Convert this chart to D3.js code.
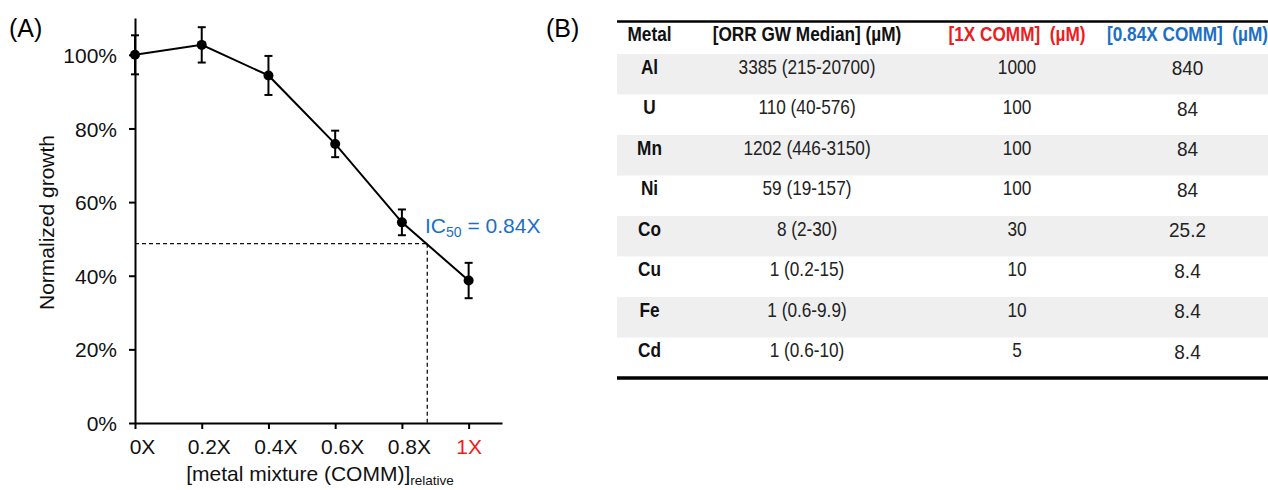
<!DOCTYPE html>
<html>
<head>
<meta charset="utf-8">
<script src="https://cdn.jsdelivr.net/npm/d3@7/dist/d3.min.js"></script>
<style>
  html, body { margin: 0; padding: 0; background: #fff; }
  svg { display: block; }
  text { font-family: "Liberation Sans", Arial, sans-serif; }
</style>
</head>
<body>
<svg id="fig" width="1268" height="490"></svg>
<script>
// ---------- Panel A data ----------
const doseX = [0, 0.2, 0.4, 0.6, 0.8, 1.0];
const doseLabels = ["0X", "0.2X", "0.4X", "0.6X", "0.8X", "1X"];
const growth = [1.00, 1.027, 0.944, 0.758, 0.545, 0.387];
const growthErr = [0.053, 0.048, 0.053, 0.036, 0.035, 0.048];
const yTicks = [0, 0.2, 0.4, 0.6, 0.8, 1.0];
const ic50X = 0.876;
const ic50Y = 0.487;

// ---------- Panel B data ----------
const tableHeaders = ["Metal", "[ORR GW Median] (\u00b5M)", "[1X COMM]  (\u00b5M)", "[0.84X COMM]  (\u00b5M)"];
const metals = ["Al", "U", "Mn", "Ni", "Co", "Cu", "Fe", "Cd"];
const orrMedian = ["3385 (215-20700)", "110 (40-576)", "1202 (446-3150)", "59 (19-157)", "8 (2-30)", "1 (0.2-15)", "1 (0.6-9.9)", "1 (0.6-10)"];
const comm1X = ["1000", "100", "100", "100", "30", "10", "10", "5"];
const comm084X = ["840", "84", "84", "84", "25.2", "8.4", "8.4", "8.4"];

const RED = "#ee1c1c";
const BLUE = "#1c6fc6";

const svg = d3.select("#fig");

// ================= Panel A =================
const x = d3.scaleLinear().domain([0, 1.1]).range([135, 502]);
const y = d3.scaleLinear().domain([0, 1.1]).range([423, 18]);

svg.append("text").attr("x", 9).attr("y", 37).attr("font-size", 25).text("(A)");

const yAxis = svg.append("g").attr("transform", `translate(${x(0)},0)`)
  .call(d3.axisLeft(y).tickValues(yTicks).tickFormat(d3.format(".0%")).tickSize(6).tickSizeOuter(0).tickPadding(12));
const xAxis = svg.append("g").attr("transform", `translate(0,${y(0)})`)
  .call(d3.axisBottom(x).tickValues(doseX).tickFormat((d, i) => doseLabels[i]).tickSize(6).tickSizeOuter(0).tickPadding(10));

[yAxis, xAxis].forEach(g => {
  g.select(".domain").attr("stroke", "#000").attr("stroke-width", 2);
  g.selectAll(".tick line").attr("stroke", "#000").attr("stroke-width", 2);
  g.selectAll(".tick text").attr("font-size", 21).attr("fill", "#111")
    .attr("font-family", "'Liberation Sans', Arial, sans-serif");
});
yAxis.selectAll(".tick text").attr("dy", "0.36em");

xAxis.selectAll(".tick text").each(function (d, i) {
  const t = d3.select(this);
  const last = i === doseLabels.length - 1;
  if (last) { t.attr("fill", RED); return; }
  const num = doseLabels[i].replace("X", "");
  const tmp = svg.append("text").attr("font-size", 21).text(num);
  const w = tmp.node().getComputedTextLength();
  tmp.remove();
  t.attr("text-anchor", "start").attr("x", -w / 2);
});

svg.append("text")
  .attr("transform", `translate(54,${(y(0) + y(1.1)) / 2 + 2}) rotate(-90)`)
  .attr("text-anchor", "middle").attr("font-size", 21).attr("fill", "#111")
  .text("Normalized growth");

const xt = svg.append("text").attr("x", 320).attr("y", 481).attr("text-anchor", "middle")
  .attr("font-size", 21).attr("fill", "#111");
xt.append("tspan").text("[metal mixture (COMM)]");
xt.append("tspan").attr("font-size", 13.5).attr("dy", 4).text("relative");

svg.append("line")
  .attr("x1", x(0)).attr("x2", x(ic50X)).attr("y1", y(ic50Y)).attr("y2", y(ic50Y))
  .attr("stroke", "#111").attr("stroke-width", 1.3).attr("stroke-dasharray", "4,3");
svg.append("line")
  .attr("x1", x(ic50X)).attr("x2", x(ic50X)).attr("y1", y(ic50Y)).attr("y2", y(0))
  .attr("stroke", "#111").attr("stroke-width", 1.3).attr("stroke-dasharray", "4,3");

const ic = svg.append("text").attr("x", 425).attr("y", 233).attr("font-size", 21).attr("fill", BLUE);
ic.append("tspan").text("IC");
ic.append("tspan").attr("font-size", 14).attr("dy", 4).text("50");
ic.append("tspan").attr("dy", -4).text(" = 0.84X");

const pts = doseX.map((d, i) => ({ x: d, y: growth[i], e: growthErr[i] }));
svg.append("path").datum(pts)
  .attr("fill", "none").attr("stroke", "#000").attr("stroke-width", 2)
  .attr("d", d3.line().x(d => x(d.x)).y(d => y(d.y)));

const eb = svg.append("g").attr("stroke", "#000").attr("stroke-width", 2);
pts.forEach(p => {
  eb.append("line").attr("x1", x(p.x)).attr("x2", x(p.x)).attr("y1", y(p.y - p.e)).attr("y2", y(p.y + p.e));
  [p.y - p.e, p.y + p.e].forEach(v => {
    eb.append("line").attr("x1", x(p.x) - 4).attr("x2", x(p.x) + 4).attr("y1", y(v)).attr("y2", y(v));
  });
});

svg.append("g").selectAll("circle").data(pts).join("circle")
  .attr("cx", d => x(d.x)).attr("cy", d => y(d.y)).attr("r", 5).attr("fill", "#000");

// ================= Panel B =================
svg.append("text").attr("x", 546).attr("y", 37).attr("font-size", 25).text("(B)");

const tableLeft = 617, tableRight = 1268;
const rowY = d3.scaleBand().domain(metals).range([54, 378]).paddingInner(0).paddingOuter(0);
const colX = d3.scaleOrdinal().domain([0, 1, 2, 3]).range([649.5, 807, 1017, 1187.5]);

svg.append("g").selectAll("rect").data(metals.filter((m, i) => i % 2 === 0)).join("rect")
  .attr("x", tableLeft).attr("width", tableRight - tableLeft)
  .attr("y", d => rowY(d)).attr("height", rowY.bandwidth())
  .attr("fill", "#efefef");

svg.append("line").attr("x1", tableLeft).attr("x2", tableRight).attr("y1", 21.5).attr("y2", 21.5)
  .attr("stroke", "#000").attr("stroke-width", 2.5);
svg.append("line").attr("x1", tableLeft).attr("x2", tableRight).attr("y1", 378).attr("y2", 378)
  .attr("stroke", "#000").attr("stroke-width", 3.5);

// condensed text helper (narrow sans look)
function narrow(g, cx, cy, str, size, bold, fill, sx) {
  g.append("text")
    .attr("transform", `translate(${cx},${cy}) scale(${sx},1)`)
    .attr("text-anchor", "middle").attr("font-size", size)
    .attr("font-weight", bold ? "bold" : "normal")
    .attr("fill", fill)
    .style("white-space", "pre")
    .text(str);
}

const headColors = ["#111", "#111", RED, BLUE];
const head = svg.append("g");
tableHeaders.forEach((h, i) => narrow(head, colX(i), 41, h, 21, true, headColors[i], 0.82));

const body = svg.append("g");
metals.forEach((m, i) => {
  const top = rowY(m);
  narrow(body, colX(0), top + 19.5, m, 21, true, "#111", 0.82);
  narrow(body, colX(1), top + 19.5, orrMedian[i], 21, false, "#222", 0.82);
  narrow(body, colX(2), top + 19.5, comm1X[i], 21, false, "#222", 0.82);
  narrow(body, colX(3), top + 21, comm084X[i], 20, false, "#222", 0.95);
});
</script>
</body>
</html>
